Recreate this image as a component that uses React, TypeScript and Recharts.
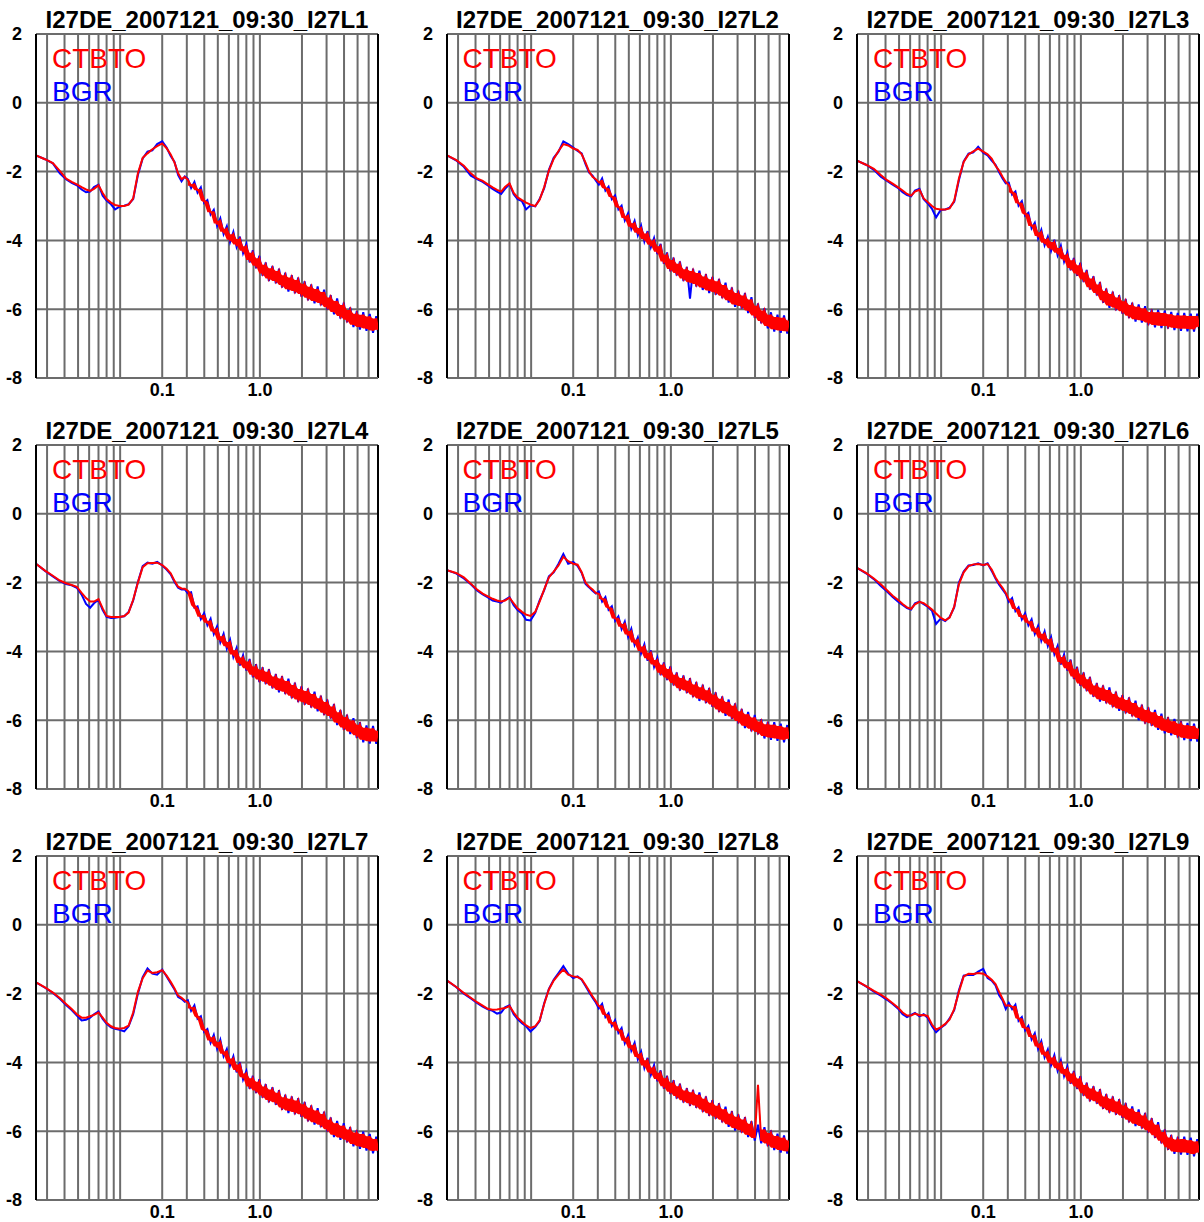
import { ComposedChart, Line, Area, XAxis, YAxis, CartesianGrid, ReferenceLine } from "recharts";

// frequency grid (Hz) shared by every station element
const FREQ_HZ = [
  0.025, 0.029, 0.033, 0.037, 0.041, 0.045, 0.049, 0.053, 0.057, 0.061, 0.065, 0.07, 0.075, 0.08, 0.086, 0.092,
  0.099, 0.107, 0.115, 0.124, 0.134, 0.145, 0.157, 0.17, 0.184, 0.2, 0.215, 0.23, 0.245, 0.26, 0.275, 0.29,
  0.305, 0.322, 0.34, 0.358, 0.378, 0.399, 0.421, 0.444, 0.468, 0.494, 0.521, 0.55, 0.58, 0.612, 0.646, 0.681,
  0.719, 0.758, 0.8, 0.844, 0.89, 0.939, 0.991, 1.045, 1.1, 1.16, 1.23, 1.3, 1.37, 1.44, 1.52, 1.6, 1.69, 1.78,
  1.88, 1.98, 2.09, 2.21, 2.33, 2.46, 2.59, 2.73, 2.88, 3.04, 3.21, 3.39, 3.57, 3.77, 3.98, 4.2, 4.43, 4.67,
  4.93, 5.2, 5.49, 5.79, 6.11, 6.45, 6.8, 7.0,
];

// log10 PSD per element
const CTBTO_L1 = [
  -1.53, -1.64, -1.75, -1.98, -2.2, -2.3, -2.37, -2.45, -2.52, -2.56, -2.5, -2.4, -2.62, -2.8, -2.9, -2.97, -3.0, -3.0, -2.96, -2.78, -2.05, -1.6, -1.47, -1.35, -1.26, -1.18, -1.32, -1.5, -1.74, -2.05, -2.22, -2.16,
  -2.24, -2.41, -2.37, -2.54, -2.53, -2.84, -2.9, -3.18, -3.18, -3.51, -3.43, -3.75, -3.66, -3.98, -3.82, -4.12, -3.96, -4.3, -4.17, -4.57, -4.36, -4.74, -4.52, -4.96, -4.71, -5.11, -4.81, -5.18, -4.89, -5.3,
  -5.01, -5.42, -5.08, -5.47, -5.15, -5.56, -5.26, -5.67, -5.35, -5.76, -5.41, -5.82, -5.5, -5.94, -5.66, -6.08, -5.76, -6.2, -5.88, -6.31, -6.02, -6.45, -6.13, -6.52, -6.16, -6.56, -6.21, -6.62, -6.27, -6.6,
];
const BGR_L1 = [
  -1.53, -1.64, -1.76, -2.05, -2.22, -2.33, -2.4, -2.52, -2.6, -2.58, -2.45, -2.38, -2.7, -2.84, -2.95, -3.1, -3.02, -2.99, -2.95, -2.8, -2.1, -1.62, -1.42, -1.38, -1.2, -1.12, -1.3, -1.55, -1.72, -2.1, -2.28, -2.14,
  -2.21, -2.48, -2.3, -2.61, -2.46, -2.91, -2.83, -3.25, -3.11, -3.58, -3.36, -3.82, -3.59, -4.05, -3.75, -4.19, -3.89, -4.37, -4.1, -4.64, -4.29, -4.81, -4.45, -5.03, -4.64, -5.18, -4.74, -5.25, -4.82, -5.37,
  -4.94, -5.49, -5.01, -5.54, -5.08, -5.63, -5.19, -5.74, -5.28, -5.83, -5.34, -5.89, -5.43, -6.01, -5.59, -6.15, -5.69, -6.27, -5.81, -6.38, -5.95, -6.52, -6.06, -6.59, -6.09, -6.63, -6.14, -6.69, -6.2, -6.67,
];

const CTBTO_L2 = [
  -1.53, -1.66, -1.83, -2.05, -2.2, -2.27, -2.37, -2.46, -2.53, -2.58, -2.45, -2.34, -2.62, -2.75, -2.83, -2.9, -2.96, -3.0, -2.82, -2.45, -1.97, -1.63, -1.4, -1.2, -1.24, -1.33, -1.37, -1.5, -1.74, -2.0, -2.15, -2.22,
  -2.31, -2.27, -2.48, -2.51, -2.73, -2.76, -3.03, -3.06, -3.35, -3.28, -3.6, -3.5, -3.78, -3.64, -3.96, -3.8, -4.13, -4.0, -4.33, -4.17, -4.61, -4.42, -4.83, -4.57, -4.95, -4.68, -5.11, -4.84, -5.22, -4.89,
  -5.27, -4.95, -5.37, -5.05, -5.46, -5.13, -5.51, -5.19, -5.61, -5.3, -5.74, -5.44, -5.86, -5.53, -5.91, -5.6, -6.04, -5.72, -6.18, -5.9, -6.34, -6.04, -6.49, -6.16, -6.58, -6.23, -6.62, -6.25, -6.64, -6.33,
];
const BGR_L2 = [
  -1.53, -1.67, -1.86, -2.12, -2.22, -2.3, -2.4, -2.5, -2.58, -2.65, -2.5, -2.36, -2.66, -2.8, -2.86, -3.1, -2.98, -3.01, -2.8, -2.48, -1.95, -1.6, -1.42, -1.12, -1.2, -1.3, -1.4, -1.47, -1.78, -2.03, -2.12, -2.26,
  -2.38, -2.2, -2.55, -2.44, -2.8, -2.69, -3.1, -2.99, -3.42, -3.21, -3.67, -3.43, -3.85, -3.57, -4.03, -3.73, -4.2, -3.93, -4.4, -4.1, -4.68, -4.35, -4.9, -4.5, -5.02, -4.61, -5.18, -4.77, -5.69, -4.82,
  -5.34, -4.88, -5.44, -4.98, -5.53, -5.06, -5.58, -5.12, -5.68, -5.23, -5.81, -5.37, -5.93, -5.46, -5.98, -5.53, -6.11, -5.65, -6.25, -5.83, -6.41, -5.97, -6.56, -6.09, -6.65, -6.16, -6.69, -6.18, -6.71, -6.26,
];

const CTBTO_L3 = [
  -1.68, -1.8, -1.92, -2.1, -2.25, -2.35, -2.45, -2.55, -2.65, -2.7, -2.58, -2.53, -2.78, -2.88, -3.0, -3.08, -3.1, -3.1, -3.07, -2.85, -2.2, -1.72, -1.5, -1.41, -1.33, -1.42, -1.5, -1.62, -1.83, -1.97, -2.15, -2.3,
  -2.39, -2.6, -2.65, -2.92, -2.93, -3.21, -3.27, -3.58, -3.56, -3.87, -3.76, -4.07, -3.96, -4.23, -4.05, -4.36, -4.22, -4.55, -4.42, -4.8, -4.58, -4.96, -4.72, -5.14, -4.93, -5.36, -5.11, -5.53, -5.28, -5.74,
  -5.47, -5.89, -5.56, -5.96, -5.66, -6.06, -5.77, -6.19, -5.88, -6.29, -5.93, -6.32, -5.98, -6.39, -6.08, -6.46, -6.09, -6.48, -6.11, -6.49, -6.15, -6.54, -6.18, -6.56, -6.18, -6.57, -6.2, -6.58, -6.2, -6.51,
];
const BGR_L3 = [
  -1.68, -1.8, -1.95, -2.15, -2.27, -2.38, -2.47, -2.6, -2.68, -2.72, -2.55, -2.5, -2.8, -2.92, -3.08, -3.33, -3.12, -3.1, -3.05, -2.88, -2.25, -1.7, -1.48, -1.44, -1.28, -1.45, -1.53, -1.68, -1.8, -2.02, -2.2, -2.34,
  -2.32, -2.67, -2.58, -2.99, -2.86, -3.28, -3.2, -3.65, -3.49, -3.94, -3.69, -4.14, -3.89, -4.3, -3.98, -4.43, -4.15, -4.62, -4.35, -4.87, -4.51, -5.03, -4.65, -5.21, -4.86, -5.43, -5.04, -5.6, -5.21, -5.81,
  -5.4, -5.96, -5.49, -6.03, -5.59, -6.13, -5.7, -6.26, -5.81, -6.36, -5.86, -6.39, -5.91, -6.46, -6.01, -6.53, -6.02, -6.55, -6.04, -6.56, -6.08, -6.61, -6.11, -6.63, -6.11, -6.64, -6.13, -6.65, -6.13, -6.58,
];

const CTBTO_L4 = [
  -1.45, -1.65, -1.8, -1.94, -2.02, -2.07, -2.12, -2.3, -2.45, -2.55, -2.55, -2.48, -2.75, -2.97, -3.0, -3.0, -3.0, -2.97, -2.87, -2.5, -2.0, -1.55, -1.44, -1.43, -1.42, -1.49, -1.6, -1.73, -1.95, -2.12, -2.17, -2.18,
  -2.24, -2.35, -2.66, -2.76, -2.99, -2.96, -3.17, -3.12, -3.42, -3.34, -3.67, -3.56, -3.85, -3.73, -4.09, -3.97, -4.34, -4.18, -4.49, -4.29, -4.68, -4.44, -4.82, -4.53, -4.88, -4.59, -5.0, -4.73, -5.12, -4.79,
  -5.17, -4.86, -5.29, -4.98, -5.4, -5.09, -5.48, -5.15, -5.56, -5.24, -5.67, -5.36, -5.78, -5.47, -5.88, -5.6, -6.07, -5.77, -6.21, -5.91, -6.33, -6.01, -6.44, -6.13, -6.57, -6.22, -6.61, -6.24, -6.62, -6.31,
];
const BGR_L4 = [
  -1.45, -1.66, -1.82, -1.96, -2.04, -2.08, -2.15, -2.35, -2.62, -2.73, -2.6, -2.5, -2.8, -3.0, -3.03, -3.02, -3.0, -2.98, -2.85, -2.52, -1.98, -1.52, -1.42, -1.45, -1.4, -1.5, -1.62, -1.76, -1.98, -2.15, -2.2, -2.2,
  -2.31, -2.28, -2.73, -2.69, -3.06, -2.89, -3.24, -3.05, -3.49, -3.27, -3.74, -3.49, -3.92, -3.66, -4.16, -3.9, -4.41, -4.11, -4.56, -4.22, -4.75, -4.37, -4.89, -4.46, -4.95, -4.52, -5.07, -4.66, -5.19, -4.72,
  -5.24, -4.79, -5.36, -4.91, -5.47, -5.02, -5.55, -5.08, -5.63, -5.17, -5.74, -5.29, -5.85, -5.4, -5.95, -5.53, -6.14, -5.7, -6.28, -5.84, -6.4, -5.94, -6.51, -6.06, -6.64, -6.15, -6.68, -6.17, -6.69, -6.24,
];

const CTBTO_L5 = [
  -1.64, -1.72, -1.85, -2.03, -2.2, -2.32, -2.4, -2.47, -2.52, -2.55, -2.52, -2.44, -2.6, -2.75, -2.85, -2.93, -2.97, -2.85, -2.55, -2.2, -1.85, -1.68, -1.5, -1.25, -1.38, -1.45, -1.48, -1.7, -2.0, -2.12, -2.2, -2.3,
  -2.33, -2.48, -2.49, -2.72, -2.76, -3.04, -3.05, -3.28, -3.2, -3.51, -3.41, -3.74, -3.66, -3.99, -3.86, -4.2, -4.04, -4.38, -4.25, -4.62, -4.39, -4.76, -4.51, -4.92, -4.68, -5.07, -4.77, -5.14, -4.85, -5.26,
  -4.96, -5.37, -5.04, -5.43, -5.13, -5.54, -5.26, -5.69, -5.38, -5.8, -5.47, -5.89, -5.58, -6.02, -5.74, -6.16, -5.83, -6.25, -5.92, -6.34, -6.04, -6.46, -6.12, -6.5, -6.13, -6.53, -6.17, -6.57, -6.21, -6.54,
];
const BGR_L5 = [
  -1.64, -1.73, -1.88, -2.05, -2.23, -2.34, -2.43, -2.52, -2.55, -2.58, -2.5, -2.42, -2.66, -2.8, -2.9, -3.08, -3.1, -2.88, -2.52, -2.22, -1.82, -1.7, -1.45, -1.17, -1.45, -1.4, -1.52, -1.72, -2.04, -2.14, -2.24, -2.32,
  -2.26, -2.55, -2.42, -2.79, -2.69, -3.11, -2.98, -3.35, -3.13, -3.58, -3.34, -3.81, -3.59, -4.06, -3.79, -4.27, -3.97, -4.45, -4.18, -4.69, -4.32, -4.83, -4.44, -4.99, -4.61, -5.14, -4.7, -5.21, -4.78, -5.33,
  -4.89, -5.44, -4.97, -5.5, -5.06, -5.61, -5.19, -5.76, -5.31, -5.87, -5.4, -5.96, -5.51, -6.09, -5.67, -6.23, -5.76, -6.32, -5.85, -6.41, -5.97, -6.53, -6.05, -6.57, -6.06, -6.6, -6.1, -6.64, -6.14, -6.61,
];

const CTBTO_L6 = [
  -1.57, -1.72, -1.88, -2.05, -2.22, -2.38, -2.5, -2.62, -2.72, -2.76, -2.63, -2.56, -2.6, -2.68, -2.78, -2.9, -3.02, -3.1, -3.02, -2.7, -2.05, -1.7, -1.52, -1.47, -1.46, -1.49, -1.46, -1.62, -1.85, -2.02, -2.15, -2.3,
  -2.49, -2.52, -2.76, -2.79, -3.0, -2.96, -3.17, -3.14, -3.42, -3.33, -3.62, -3.49, -3.77, -3.65, -4.01, -3.91, -4.31, -4.16, -4.49, -4.31, -4.73, -4.52, -4.93, -4.68, -5.08, -4.81, -5.25, -4.99, -5.39, -5.06,
  -5.44, -5.12, -5.55, -5.24, -5.66, -5.34, -5.73, -5.41, -5.82, -5.5, -5.93, -5.62, -6.03, -5.7, -6.09, -5.77, -6.21, -5.88, -6.31, -5.98, -6.37, -6.03, -6.43, -6.1, -6.51, -6.15, -6.54, -6.17, -6.55, -6.24,
];
const BGR_L6 = [
  -1.57, -1.73, -1.9, -2.1, -2.26, -2.42, -2.55, -2.65, -2.74, -2.78, -2.6, -2.55, -2.63, -2.7, -2.82, -3.2, -3.05, -3.12, -3.0, -2.72, -2.0, -1.68, -1.5, -1.49, -1.44, -1.5, -1.44, -1.66, -1.88, -2.06, -2.2, -2.33,
  -2.56, -2.45, -2.83, -2.72, -3.07, -2.89, -3.24, -3.07, -3.49, -3.26, -3.69, -3.42, -3.84, -3.58, -4.08, -3.84, -4.38, -4.09, -4.56, -4.24, -4.8, -4.45, -5.0, -4.61, -5.15, -4.74, -5.32, -4.92, -5.46, -4.99,
  -5.51, -5.05, -5.62, -5.17, -5.73, -5.27, -5.8, -5.34, -5.89, -5.43, -6.0, -5.55, -6.1, -5.63, -6.16, -5.7, -6.28, -5.81, -6.38, -5.91, -6.44, -5.96, -6.5, -6.03, -6.58, -6.08, -6.61, -6.1, -6.62, -6.17,
];

const CTBTO_L7 = [
  -1.67, -1.82, -1.97, -2.13, -2.3, -2.45, -2.6, -2.7, -2.7, -2.66, -2.62, -2.55, -2.7, -2.85, -2.95, -3.0, -3.02, -3.0, -2.93, -2.55, -1.95, -1.55, -1.33, -1.4, -1.38, -1.32, -1.48, -1.66, -1.85, -2.06, -2.12, -2.2,
  -2.26, -2.43, -2.41, -2.66, -2.73, -3.04, -3.1, -3.36, -3.27, -3.54, -3.41, -3.75, -3.68, -4.02, -3.89, -4.22, -4.06, -4.43, -4.32, -4.7, -4.46, -4.82, -4.56, -4.96, -4.7, -5.09, -4.79, -5.16, -4.88, -5.31,
  -5.01, -5.4, -5.06, -5.44, -5.11, -5.51, -5.22, -5.64, -5.32, -5.74, -5.4, -5.81, -5.5, -5.94, -5.67, -6.1, -5.77, -6.18, -5.84, -6.25, -5.95, -6.37, -6.04, -6.44, -6.08, -6.49, -6.15, -6.57, -6.23, -6.57,
];
const BGR_L7 = [
  -1.67, -1.83, -1.98, -2.15, -2.33, -2.48, -2.64, -2.78, -2.76, -2.7, -2.6, -2.52, -2.74, -2.88, -2.98, -3.02, -3.05, -3.1, -2.95, -2.6, -2.0, -1.52, -1.27, -1.42, -1.45, -1.3, -1.5, -1.7, -1.88, -2.1, -2.15, -2.24,
  -2.19, -2.5, -2.34, -2.73, -2.66, -3.11, -3.03, -3.43, -3.2, -3.61, -3.34, -3.82, -3.61, -4.09, -3.82, -4.29, -3.99, -4.5, -4.25, -4.77, -4.39, -4.89, -4.49, -5.03, -4.63, -5.16, -4.72, -5.23, -4.81, -5.38,
  -4.94, -5.47, -4.99, -5.51, -5.04, -5.58, -5.15, -5.71, -5.25, -5.81, -5.33, -5.88, -5.43, -6.01, -5.6, -6.17, -5.7, -6.25, -5.77, -6.32, -5.88, -6.44, -5.97, -6.51, -6.01, -6.56, -6.08, -6.64, -6.16, -6.64,
];

const CTBTO_L8 = [
  -1.62, -1.8, -1.98, -2.12, -2.25, -2.35, -2.44, -2.47, -2.46, -2.44, -2.42, -2.36, -2.55, -2.7, -2.82, -2.92, -3.0, -2.95, -2.78, -2.3, -1.88, -1.62, -1.45, -1.3, -1.45, -1.5, -1.52, -1.58, -1.75, -1.92, -2.08, -2.22,
  -2.36, -2.37, -2.61, -2.64, -2.87, -2.84, -3.07, -3.07, -3.37, -3.28, -3.59, -3.5, -3.84, -3.75, -4.09, -3.94, -4.29, -4.15, -4.48, -4.3, -4.69, -4.46, -4.85, -4.59, -4.98, -4.69, -5.1, -4.82, -5.19, -4.87,
  -5.25, -4.94, -5.37, -5.06, -5.48, -5.17, -5.57, -5.26, -5.67, -5.36, -5.8, -5.49, -5.91, -5.58, -5.97, -5.66, -6.1, -5.78, -6.2, -4.65, -6.28, -5.95, -6.36, -6.05, -6.48, -6.14, -6.55, -6.19, -6.58, -6.27,
];
const BGR_L8 = [
  -1.62, -1.81, -2.0, -2.14, -2.27, -2.38, -2.46, -2.5, -2.58, -2.55, -2.4, -2.34, -2.6, -2.74, -2.86, -2.95, -3.1, -2.97, -2.8, -2.28, -1.86, -1.6, -1.4, -1.2, -1.42, -1.55, -1.5, -1.6, -1.78, -1.96, -2.12, -2.26,
  -2.43, -2.3, -2.68, -2.57, -2.94, -2.77, -3.14, -3.0, -3.44, -3.21, -3.66, -3.43, -3.91, -3.68, -4.16, -3.87, -4.36, -4.08, -4.55, -4.23, -4.76, -4.39, -4.92, -4.52, -5.05, -4.62, -5.17, -4.75, -5.26, -4.8,
  -5.32, -4.87, -5.44, -4.99, -5.55, -5.1, -5.64, -5.19, -5.74, -5.29, -5.87, -5.42, -5.98, -5.51, -6.04, -5.59, -6.17, -5.71, -6.27, -5.81, -6.35, -5.88, -6.43, -5.98, -6.55, -6.07, -6.62, -6.12, -6.65, -6.2,
];

const CTBTO_L9 = [
  -1.64, -1.78, -1.92, -2.03, -2.15, -2.28, -2.4, -2.55, -2.64, -2.64, -2.58, -2.63, -2.62, -2.65, -2.9, -3.05, -2.98, -2.88, -2.75, -2.45, -1.95, -1.5, -1.42, -1.43, -1.4, -1.42, -1.5, -1.6, -1.72, -1.95, -2.15, -2.35,
  -2.34, -2.38, -2.39, -2.72, -2.75, -3.0, -3.01, -3.26, -3.22, -3.54, -3.45, -3.78, -3.69, -4.01, -3.86, -4.17, -4.01, -4.33, -4.19, -4.55, -4.32, -4.7, -4.47, -4.9, -4.66, -5.06, -4.76, -5.13, -4.85, -5.28,
  -4.99, -5.39, -5.06, -5.45, -5.14, -5.54, -5.25, -5.67, -5.35, -5.78, -5.44, -5.85, -5.54, -5.97, -5.69, -6.12, -5.81, -6.28, -6.02, -6.47, -6.18, -6.59, -6.24, -6.61, -6.23, -6.62, -6.26, -6.66, -6.3, -6.62,
];
const BGR_L9 = [
  -1.64, -1.79, -1.94, -2.06, -2.18, -2.3, -2.43, -2.6, -2.68, -2.62, -2.56, -2.66, -2.6, -2.7, -2.95, -3.12, -3.0, -2.9, -2.72, -2.48, -1.9, -1.48, -1.45, -1.46, -1.36, -1.28, -1.55, -1.62, -1.76, -2.05, -2.2, -2.45,
  -2.27, -2.45, -2.32, -2.79, -2.68, -3.07, -2.94, -3.33, -3.15, -3.61, -3.38, -3.85, -3.62, -4.08, -3.79, -4.24, -3.94, -4.4, -4.12, -4.62, -4.25, -4.77, -4.4, -4.97, -4.59, -5.13, -4.69, -5.2, -4.78, -5.35,
  -4.92, -5.46, -4.99, -5.52, -5.07, -5.61, -5.18, -5.74, -5.28, -5.85, -5.37, -5.92, -5.47, -6.04, -5.62, -6.19, -5.74, -6.35, -5.95, -6.54, -6.11, -6.66, -6.17, -6.68, -6.16, -6.69, -6.19, -6.73, -6.23, -6.69,
];

const ELEMENTS = ["I27L1", "I27L2", "I27L3", "I27L4", "I27L5", "I27L6", "I27L7", "I27L8", "I27L9"];
const CTBTO = [CTBTO_L1, CTBTO_L2, CTBTO_L3, CTBTO_L4, CTBTO_L5, CTBTO_L6, CTBTO_L7, CTBTO_L8, CTBTO_L9];
const BGR = [BGR_L1, BGR_L2, BGR_L3, BGR_L4, BGR_L5, BGR_L6, BGR_L7, BGR_L8, BGR_L9];
const TITLE_PREFIX = "I27DE_2007121_09:30_";

const Y_TICKS = [-8, -6, -4, -2, 0, 2];
const X_GRID = [0.03, 0.04, 0.05, 0.06, 0.07, 0.08, 0.09, 0.1, 0.2, 0.3, 0.4, 0.5, 0.6, 0.7, 0.8, 0.9, 1, 2, 3, 4, 5, 6];
const X_LABELS = [
  { at: 0.2, text: "0.1" },
  { at: 1, text: "1.0" },
];

// above this the spectra turn into a noise band; shade between neighbouring samples there
const NOISE_FROM_HZ = 0.3;
const MAX_BAND_STEP = 1;

const FONT = '"Liberation Sans", Arial, Helvetica, sans-serif';
const GRID = "#6c6c6c";
const RED = "#ff0000";
const BLUE = "#0000ff";

const W = 383;
const H = 410;

const band = (v: number[], i: number) => {
  const a = v[i];
  const b = i + 1 < v.length ? v[i + 1] : a;
  if (Math.abs(a - b) > MAX_BAND_STEP) return [a, a];
  return [Math.min(a, b), Math.max(a, b)];
};

const XTick = ({ x, y, payload }: any) => {
  const label = X_LABELS.find((l) => l.at === payload.value);
  if (!label) return <g />;
  return (
    <text x={x} y={y} dy="0.71em" textAnchor="middle" fontFamily={FONT} fontSize={18} fontWeight="bold" fill="#000">
      {label.text}
    </text>
  );
};

const Panel = ({ index }: { index: number }) => {
  const red = CTBTO[index];
  const blue = BGR[index];
  const data = FREQ_HZ.map((f, i) => ({
    f,
    ctbto: red[i],
    bgr: blue[i],
    ctbtoBand: f >= NOISE_FROM_HZ ? band(red, i) : null,
  }));
  const col = index % 3;
  const row = Math.floor(index / 3);
  return (
    <div style={{ position: "absolute", left: col * 410.5, top: row * 411, width: W, height: H }}>
      <ComposedChart width={W} height={H} data={data} margin={{ top: 34, right: 5, bottom: 0, left: 0 }}>
        <CartesianGrid stroke={GRID} strokeWidth={2} />
        <XAxis
          dataKey="f"
          type="number"
          scale="log"
          domain={[0.025, 7]}
          allowDataOverflow
          ticks={X_GRID}
          interval={0}
          height={32}
          tickSize={0}
          tickMargin={5}
          tick={<XTick />}
          axisLine={{ stroke: GRID, strokeWidth: 2 }}
        />
        <YAxis
          type="number"
          domain={[-8, 2]}
          ticks={Y_TICKS}
          interval={0}
          width={36}
          tickSize={0}
          tickMargin={14}
          tick={{ fontFamily: FONT, fontSize: 18, fontWeight: "bold", fill: "#000" }}
          axisLine={{ stroke: "#000", strokeWidth: 2 }}
        />
        <ReferenceLine y={2} stroke={GRID} strokeWidth={2} />
        <ReferenceLine x={7} stroke="#000" strokeWidth={2} />
        <Area type="linear" dataKey="bgr" name="BGR" stroke={BLUE} strokeWidth={2} fill="none" dot={false} activeDot={false} isAnimationActive={false} />
        <Area type="linear" dataKey="ctbtoBand" stroke="none" fill={RED} fillOpacity={1} dot={false} activeDot={false} isAnimationActive={false} />
        <Line type="linear" dataKey="ctbto" name="CTBTO" stroke={RED} strokeWidth={2} dot={false} activeDot={false} isAnimationActive={false} />
      </ComposedChart>
      <div
        style={{
          position: "absolute", left: 36, top: 8, width: 342, textAlign: "center",
          fontFamily: FONT, fontSize: 24, lineHeight: "24px", fontWeight: "bold", color: "#000", whiteSpace: "nowrap",
        }}
      >
        {TITLE_PREFIX + ELEMENTS[index]}
      </div>
      <div style={{ position: "absolute", left: 52, top: 45, fontFamily: FONT, fontSize: 28, lineHeight: "28px", color: RED }}>CTBTO</div>
      <div style={{ position: "absolute", left: 52, top: 78, fontFamily: FONT, fontSize: 28, lineHeight: "28px", color: BLUE }}>BGR</div>
    </div>
  );
};

export default function App() {
  return (
    <div style={{ position: "absolute", left: 0, top: 0, width: 1204, height: 1222, overflow: "hidden", background: "#fff" }}>
      {ELEMENTS.map((_, i) => (
        <Panel key={i} index={i} />
      ))}
    </div>
  );
}
